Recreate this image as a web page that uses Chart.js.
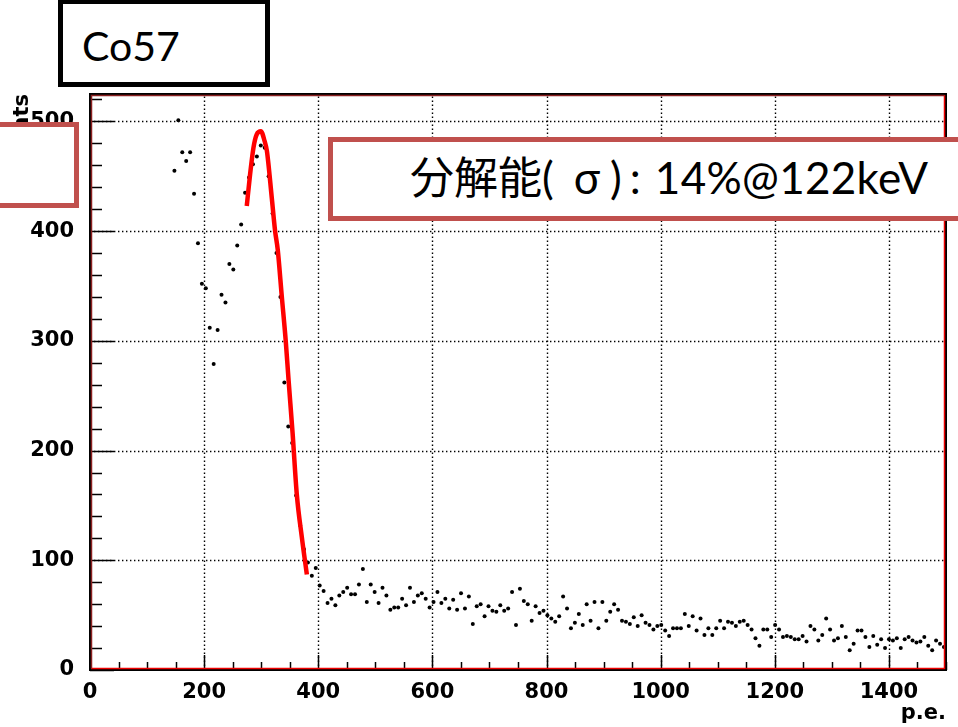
<!DOCTYPE html>
<html>
<head>
<meta charset="utf-8">
<title>Co57</title>
<script src="https://cdn.jsdelivr.net/npm/chart.js@4.4.1/dist/chart.umd.min.js"></script>
<style>
  html, body { margin: 0; padding: 0; background: #fff; }
  #wrap { position: relative; width: 958px; height: 727px; overflow: hidden; }
  #plot { position: absolute; left: 0; top: 0; }
  .box { position: absolute; box-sizing: border-box; background: #fff; }
  .box > span { position: absolute; white-space: nowrap; line-height: 1; }
  #co57 { left: 58px; top: -1px; width: 212px; height: 88px; border: 5px solid #000; }
  #co57 > span { left: 19px; top: 17px; font: 41px Lato, "Noto Sans", sans-serif; color: #000; }
  #blank { left: -20px; top: 122px; width: 99px; height: 86px; border: 5px solid #c0504d; }
  #reso { left: 328px; top: 137px; width: 700px; height: 84px; border: 5px solid #c0504d; }
  #reso > span { left: 77px; top: 1px; font: 44px Lato, "Noto Sans CJK JP", sans-serif; color: #000; }
  #reso .sig { margin: 0 10px 0 20px; }
  #reso .col { margin: 0 14px 0 8px; }
  #reso .num { letter-spacing: 0.3px; }
</style>
</head>
<body>
<div id="wrap">
  <canvas id="plot" width="958" height="727"></canvas>
  <div class="box" id="co57"><span>Co57</span></div>
  <div class="box" id="blank"></div>
  <div class="box" id="reso"><span>分解能(<span class="sig">σ</span>)<span class="col">:</span><span class="num">14%@122keV</span></span></div>
</div>
<script>
// histogram: bins of width binWidth, first filled bin index firstBin
const binWidth = 6.88;
const firstBin = 21;
const counts = [
  455, 501, 472, 464, 472, 434, 389, 352, 348, 312, 279, 310, 342, 335, 370, 365,
  387, 406, 435, 449, 461, 468, 478,
  476, 450, 416, 380, 340, 262, 222, 207, 159, 132, 110,
  98, 86, 93, 77, 72, 61, 65, 59, 68, 71, 75, 69, 69, 78, 92, 62, 78, 71, 61, 75,
  68, 55, 57, 57, 65, 59, 75, 62, 68, 70, 65, 57, 62, 71, 61, 65, 56, 64, 55, 70,
  56, 67, 42, 58,
  60, 49, 58, 54, 53, 59, 54, 56, 71, 41,
  74, 63, 60, 45, 58, 52, 54, 50, 47, 44,
  49, 67, 56, 38, 43, 51, 41, 60, 45, 62,
  38, 62, 45, 53, 60, 55, 45, 44, 42, 48,
  40, 50, 43, 41, 37, 40, 41, 36, 31, 38,
  38, 38, 51, 40, 49, 36, 47, 32, 38, 32,
  38, 45, 38, 44, 43, 40, 44, 45, 41, 37,
  29, 22, 37, 37, 30, 41, 37, 30, 31, 30,
  28, 28, 31, 26, 40, 37, 27, 32, 47, 37,
  27, 29, 40, 30, 18, 24, 36, 36, 30, 21,
  31, 23, 28, 20, 28, 27, 29, 20, 28, 30,
  27, 25, 26, 30, 22, 18, 27, 24, 21
];

// fitted peak
const fitX = [274.7, 280.6, 286.4, 292, 299.5, 306, 310, 318.6, 324.4, 329, 336, 343, 348, 355, 362.4, 371.2, 380];
const fitY = [423, 452, 476, 488, 491, 482, 473, 430, 400, 383, 341, 300, 264, 216, 160, 121, 87];

const xMin = 0, xMax = 1500, xStep = 200, xMinorStep = 50;
const yMin = 0, yMax = 525, yStep = 100, yMinorStep = 20;

const histPoints = counts.map((c, i) => ({ x: (firstBin + i + 0.5) * binWidth, y: c }));
const fitPoints = fitX.map((x, i) => ({ x, y: fitY[i] }));

const tickFont = { family: 'DejaVu Sans', weight: 'bold', size: 21, lineHeight: 1.2 };
const titleFont = { family: 'DejaVu Sans', weight: 'bold', size: 21, lineHeight: 1 };

// ROOT-like frame: dotted grid, inward ticks, frame
const rootFrame = {
  id: 'rootFrame',
  beforeDatasetsDraw(chart) {
    const { ctx, chartArea: a, scales: { x, y } } = chart;
    ctx.save();
    ctx.strokeStyle = '#000';
    ctx.lineWidth = 1.4;
    ctx.setLineDash([1.4, 2.6]);
    x.ticks.forEach(t => {
      if (t.value <= xMin || t.value >= xMax) return;
      const px = Math.round(x.getPixelForValue(t.value)) + 0.5;
      ctx.beginPath(); ctx.moveTo(px, a.bottom); ctx.lineTo(px, a.top); ctx.stroke();
    });
    y.ticks.forEach(t => {
      if (t.value <= yMin || t.value >= yMax) return;
      const py = Math.round(y.getPixelForValue(t.value)) + 0.5;
      ctx.beginPath(); ctx.moveTo(a.left, py); ctx.lineTo(a.right, py); ctx.stroke();
    });
    ctx.restore();
  },
  afterDatasetsDraw(chart) {
    const { ctx, chartArea: a, scales: { x, y } } = chart;
    ctx.save();
    ctx.strokeStyle = '#000';
    ctx.lineWidth = 1.5;
    for (let v = xMin; v <= xMax; v += xMinorStep) {
      const px = Math.round(x.getPixelForValue(v)) + 0.5;
      const len = v % xStep === 0 ? 15 : 8;
      ctx.beginPath(); ctx.moveTo(px, a.bottom); ctx.lineTo(px, a.bottom - len); ctx.stroke();
    }
    for (let v = yMin; v <= yMax; v += yMinorStep) {
      const py = Math.round(y.getPixelForValue(v)) + 0.5;
      const len = v % yStep === 0 ? 24 : 12;
      ctx.beginPath(); ctx.moveTo(a.left, py); ctx.lineTo(a.left + len, py); ctx.stroke();
    }
    // frame
    ctx.lineWidth = 2;
    ctx.strokeStyle = '#000';
    ctx.strokeRect(a.left, a.top, a.right - a.left, a.bottom - a.top);
    // histogram outline: red on bottom / right, darker on left / top
    ctx.lineWidth = 1.5;
    ctx.strokeStyle = '#ee0000';
    ctx.beginPath();
    ctx.moveTo(a.left + 1, a.bottom - 1.5);
    ctx.lineTo(a.right - 1.5, a.bottom - 1.5);
    ctx.lineTo(a.right - 1.5, a.top + 1);
    ctx.stroke();
    ctx.strokeStyle = '#8a2020';
    ctx.beginPath();
    ctx.moveTo(a.left + 1.5, a.bottom - 1.5);
    ctx.lineTo(a.left + 1.5, a.top + 1.5);
    ctx.lineTo(a.right - 1.5, a.top + 1.5);
    ctx.stroke();
    ctx.restore();
  }
};

new Chart(document.getElementById('plot').getContext('2d'), {
  data: {
    datasets: [
      {
        type: 'line',
        label: 'fit',
        data: fitPoints,
        borderColor: '#ff0000',
        borderWidth: 4.5,
        pointRadius: 0,
        cubicInterpolationMode: 'monotone',
        fill: false,
        order: 0
      },
      {
        type: 'scatter',
        label: 'Co57',
        data: histPoints,
        backgroundColor: '#000',
        borderWidth: 0,
        pointRadius: 2,
        order: 1
      }
    ]
  },
  options: {
    responsive: false,
    animation: false,
    devicePixelRatio: 1,
    layout: { padding: { left: 0, top: 94, right: 12, bottom: 0 } },
    plugins: { legend: { display: false }, tooltip: { enabled: false } },
    scales: {
      x: {
        type: 'linear',
        min: xMin,
        max: xMax,
        grid: { display: false },
        border: { display: false },
        ticks: {
          stepSize: xStep,
          includeBounds: false,
          autoSkip: false,
          maxRotation: 0,
          padding: 2,
          color: '#000',
          font: tickFont,
          callback: v => String(v)
        },
        title: {
          display: true,
          text: 'p.e.',
          align: 'end',
          color: '#000',
          font: titleFont,
          padding: { top: 0, bottom: 3 }
        },
        afterFit(scale) { scale.height = 57; }
      },
      y: {
        type: 'linear',
        min: yMin,
        max: yMax,
        grid: { display: false },
        border: { display: false },
        ticks: {
          stepSize: yStep,
          includeBounds: false,
          padding: 8,
          color: '#000',
          font: tickFont,
          callback: v => String(v)
        },
        title: {
          display: true,
          text: 'counts',
          align: 'end',
          color: '#000',
          font: titleFont,
          padding: { top: 12, bottom: 0 }
        },
        afterFit(scale) { scale.width = 90; }
      }
    }
  },
  plugins: [rootFrame]
});
</script>
</body>
</html>
